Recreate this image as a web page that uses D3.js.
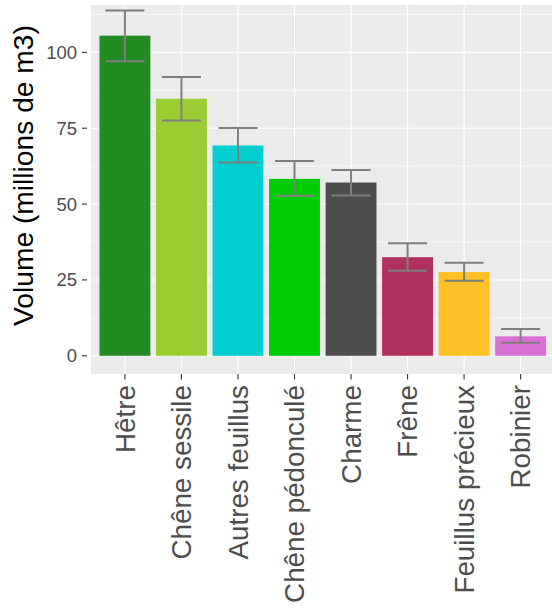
<!DOCTYPE html>
<html><head><meta charset="utf-8">
<script src="https://cdn.jsdelivr.net/npm/d3@7"></script>
<style>body{margin:0;background:#fff}svg{display:block}</style>
</head><body>
<svg id="chart" width="552" height="608"></svg>
<script>
const categories = ["Hêtre","Chêne sessile","Autres feuillus","Chêne pédonculé","Charme","Frêne","Feuillus précieux","Robinier"];
const volumes = [105.5, 84.7, 69.3, 58.3, 57.1, 32.5, 27.6, 6.4];
const lower = [97.1, 77.5, 63.7, 52.7, 52.8, 28.0, 24.7, 4.3];
const upper = [113.8, 91.9, 75.1, 64.2, 61.2, 37.1, 30.7, 8.8];
const colors = ["#228B22","#9ACD32","#00CED1","#00CD00","#4D4D4D","#B03060","#FFC125","#DA70D6"];
const yTicks = [0, 25, 50, 75, 100];
const yMinor = [12.5, 37.5, 62.5, 87.5, 112.5];

const font = "'Liberation Sans', Arial, Helvetica, sans-serif";
const svg = d3.select("#chart");
const L = 91, T = 5, B = 374, R = 91 + 8.2 * 56.53;

const x = d3.scaleBand().domain(categories).range([L, R]).paddingInner(0.1).paddingOuter(0.15);
const y = d3.scaleLinear().domain([-6, 115.6]).range([B, T]);

const data = categories.map((c, i) => ({c, v: volumes[i], lo: lower[i], hi: upper[i], col: colors[i]}));

// panel
svg.append("rect").attr("x", L).attr("y", T).attr("width", R - L).attr("height", B - T).attr("fill", "#EBEBEB");
const grid = svg.append("g");
grid.selectAll("line.minor").data(yMinor).join("line")
  .attr("x1", L).attr("x2", R).attr("y1", d => y(d)).attr("y2", d => y(d))
  .attr("stroke", "#fff").attr("stroke-width", 0.55);
grid.selectAll("line.majy").data(yTicks).join("line")
  .attr("x1", L).attr("x2", R).attr("y1", d => y(d)).attr("y2", d => y(d))
  .attr("stroke", "#fff").attr("stroke-width", 1.1);
grid.selectAll("line.majx").data(categories).join("line")
  .attr("x1", d => x(d) + x.bandwidth() / 2).attr("x2", d => x(d) + x.bandwidth() / 2)
  .attr("y1", T).attr("y2", B)
  .attr("stroke", "#fff").attr("stroke-width", 1.1);

// bars
svg.append("g").selectAll("rect").data(data).join("rect")
  .attr("x", d => x(d.c)).attr("width", x.bandwidth())
  .attr("y", d => y(d.v)).attr("height", d => y(0) - y(d.v))
  .attr("fill", d => d.col);

// error bars
const ew = x.step() * 0.69;
const eb = svg.append("g").attr("stroke", "#7F7F7F").attr("stroke-width", 2).attr("fill", "none");
data.forEach(d => {
  const cx = x(d.c) + x.bandwidth() / 2;
  eb.append("line").attr("x1", cx).attr("x2", cx).attr("y1", y(d.lo)).attr("y2", y(d.hi));
  eb.append("line").attr("x1", cx - ew / 2).attr("x2", cx + ew / 2).attr("y1", y(d.lo)).attr("y2", y(d.lo));
  eb.append("line").attr("x1", cx - ew / 2).attr("x2", cx + ew / 2).attr("y1", y(d.hi)).attr("y2", y(d.hi));
});

// y axis
const ya = svg.append("g");
ya.selectAll("line").data(yTicks).join("line")
  .attr("x1", 82).attr("x2", 87).attr("y1", d => y(d)).attr("y2", d => y(d))
  .attr("stroke", "#333").attr("stroke-width", 1.1);
ya.selectAll("text").data(yTicks).join("text")
  .attr("x", 77).attr("y", d => y(d)).attr("dy", "0.35em")
  .attr("text-anchor", "end").attr("font-family", font).attr("font-size", 18.5)
  .attr("fill", "#4D4D4D").text(d => d);

// x axis
const xa = svg.append("g");
xa.selectAll("line").data(categories).join("line")
  .attr("x1", d => x(d) + x.bandwidth() / 2).attr("x2", d => x(d) + x.bandwidth() / 2)
  .attr("y1", B).attr("y2", B + 5.5)
  .attr("stroke", "#333").attr("stroke-width", 1.1);
xa.selectAll("text").data(categories).join("text")
  .attr("transform", d => `translate(${x(d) + x.bandwidth() / 2},385) rotate(-90)`)
  .attr("dy", "0.35em").attr("text-anchor", "end")
  .attr("font-family", font).attr("font-size", 27.8).attr("fill", "#4D4D4D").text(d => d);

// y title
svg.append("text").attr("transform", "translate(33,175.5) rotate(-90)")
  .attr("text-anchor", "middle").attr("font-family", font).attr("font-size", 28.2)
  .attr("fill", "#000").text("Volume (millions de m3)");
</script>
</body></html>
